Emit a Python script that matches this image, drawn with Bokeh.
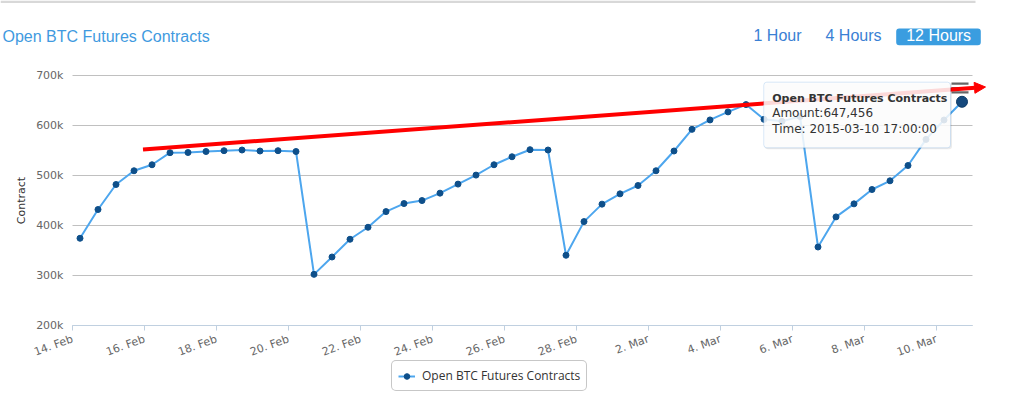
import pandas as pd
from bokeh.plotting import figure
from bokeh.models import (ColumnDataSource, FixedTicker, Legend, LegendItem, Label,
                          BoxAnnotation, Arrow, NormalHead, Range1d, Grid)
from bokeh.embed import file_html
from bokeh.resources import INLINE

# ---------------- data ----------------
series_name = "Open BTC Futures Contracts"
times = pd.date_range("2015-02-14 05:00", periods=50, freq="12h")
amounts = [374500, 432000, 482000, 509500, 521500, 545600, 546000, 548000, 549600, 551000,
           549000, 549600, 548000, 302300, 337000, 372500, 396500, 427800, 443900, 449900,
           464700, 482800, 500800, 521500, 537500, 551600, 551000, 340500, 407800, 442700,
           463300, 480000, 509500, 549000, 592300, 611100, 627200, 641800, 612300, 608300,
           618000, 357000, 417200, 443300, 472000, 489400, 520000, 572200, 611000, 647456]
y_ticks = [200000, 300000, 400000, 500000, 600000, 700000]
y_tick_labels = ["200k", "300k", "400k", "500k", "600k", "700k"]
x_tick_dates = ["2015-02-14", "2015-02-16", "2015-02-18", "2015-02-20", "2015-02-22",
                "2015-02-24", "2015-02-26", "2015-02-28", "2015-03-02", "2015-03-04",
                "2015-03-06", "2015-03-08", "2015-03-10"]
x_tick_labels = ["14. Feb", "16. Feb", "18. Feb", "20. Feb", "22. Feb", "24. Feb", "26. Feb",
                 "28. Feb", "2. Mar", "4. Mar", "6. Mar", "8. Mar", "10. Mar"]
range_buttons = ["1 Hour", "4 Hours", "12 Hours"]
selected_button = "12 Hours"
trend_start = ("2015-02-15 23:00", 552000)
trend_end = ("2015-03-11 08:40", 677000)
x_domain = ("2015-02-14", "2015-03-11")
y_domain = (200000, 700000)


def ms(s):
    return pd.Timestamp(s).value // 10**6


# ---------------- geometry (page pixels) ----------------
W, H = 1014, 394
PLOT_L, PLOT_R = 72, 972      # plot area left/right
PLOT_T, PLOT_B = 75, 325      # plot area top/bottom
x0, x1 = ms(x_domain[0]), ms(x_domain[1])
ppx = (x1 - x0) / (PLOT_R - PLOT_L)
ppy = (y_domain[1] - y_domain[0]) / (PLOT_B - PLOT_T)
xr = Range1d(x0 - PLOT_L * ppx, x1 + (W - PLOT_R) * ppx)
yr = Range1d(y_domain[0] - (H - PLOT_B) * ppy, y_domain[1] + PLOT_T * ppy)

p = figure(width=W, height=H, x_axis_type="datetime", output_backend="svg",
           toolbar_location=None, x_range=xr, y_range=yr, min_border=0)
p.min_border_left = p.min_border_right = p.min_border_top = p.min_border_bottom = 0
p.title.visible = False
p.outline_line_color = None
p.background_fill_color = "white"
p.border_fill_color = "white"


def sx(X):
    return X


def sy(Y):
    return H - Y


def sbox(L, R, T, B, **kw):
    return BoxAnnotation(left=sx(L), right=sx(R), top=sy(T), bottom=sy(B),
                         left_units="screen", right_units="screen",
                         top_units="screen", bottom_units="screen", **kw)


# top page rule
p.add_layout(sbox(0, 975, 0, 2.5, fill_color="#d8d8d8", fill_alpha=1, line_color=None))

# ---------------- grid ----------------
p.xgrid.visible = False
p.ygrid.visible = False
yt = FixedTicker(ticks=y_ticks)
if "cross_bounds" in Grid.properties():
    g = Grid(dimension=1, ticker=yt, bounds=y_domain, cross_bounds=(x0, x1),
             grid_line_color="#c0c0c0", grid_line_width=1)
    p.add_layout(g)
else:
    p.segment(x0=[x0] * len(y_ticks), x1=[x1] * len(y_ticks), y0=y_ticks, y1=y_ticks,
              line_color="#c0c0c0", line_width=1)

# ---------------- series ----------------
src = ColumnDataSource(dict(t=times, amount=amounts))
line_r = p.line("t", "amount", source=src, line_color="#4da6ee", line_width=2)
pts_r = p.scatter("t", "amount", source=src, size=6, fill_color="#0e4f8a",
                  line_color="#0e4f8a")
p.scatter(x=[times[-1]], y=[amounts[-1]], size=11, fill_color="#15497d",
          line_color="#0d3a66", line_width=1)

# ---------------- axes (fixed inside the canvas) ----------------
yax = p.yaxis[0]
yax.fixed_location = x0
yax.bounds = y_domain
yax.ticker = yt
yax.major_label_overrides = dict(zip(y_ticks, y_tick_labels))
yax.axis_label = "Contract"
yax.axis_line_color = None
yax.major_tick_line_color = None
yax.minor_tick_line_color = None
yax.major_tick_out = 0
yax.major_tick_in = 0
yax.major_label_text_font = "DejaVu Sans"
yax.major_label_text_font_size = "11px"
yax.major_label_text_color = "#666666"
yax.major_label_standoff = 9
yax.axis_label_standoff = 5
yax.axis_label_text_font = "DejaVu Sans"
yax.axis_label_text_font_size = "11px"
yax.axis_label_text_font_style = "normal"
yax.axis_label_text_color = "#333333"

x_tick_ms = [ms(d) for d in x_tick_dates]
xax = p.xaxis[0]
xax.fixed_location = y_domain[0]
xax.bounds = (x0, x1)
xax.ticker = FixedTicker(ticks=x_tick_ms)
xax.major_label_overrides = dict(zip(x_tick_ms, x_tick_labels))
xax.major_label_orientation = 0.349
xax.axis_line_color = "#c0d0e0"
xax.major_tick_line_color = "#c0d0e0"
xax.major_tick_out = 5
xax.major_tick_in = 0
xax.minor_tick_line_color = None
xax.major_label_text_font = "DejaVu Sans"
xax.major_label_text_font_size = "11px"
xax.major_label_text_color = "#666666"
xax.major_label_standoff = 8

# ---------------- title and range buttons ----------------
p.add_layout(Label(x=sx(2), y=sy(35.8), x_units="screen", y_units="screen",
                   text=series_name, text_font="Liberation Sans", text_font_size="16px",
                   text_color="#3f9ae0", text_baseline="alphabetic"))
p.add_layout(sbox(895.7, 980.3, 28, 44.7, fill_color="#3a9de0", fill_alpha=1,
                  line_color=None, border_radius=3))
for txt, bx in zip(range_buttons, [753, 825, 905.7]):
    p.add_layout(Label(x=sx(bx), y=sy(35.2), x_units="screen", y_units="screen", text=txt,
                       text_font="Liberation Sans", text_font_size="16px",
                       text_color="white" if txt == selected_button else "#3a80d4",
                       text_baseline="alphabetic"))

# ---------------- export menu icon ----------------
for top in [82, 86.5, 90.7]:
    p.add_layout(sbox(951, 968, top, top + 2.3, fill_color="#666666", fill_alpha=1,
                      line_color=None))

# ---------------- red trend arrow ----------------
p.add_layout(Arrow(end=NormalHead(size=11, fill_color="red", line_color="red"),
                   x_start=ms(trend_start[0]), y_start=trend_start[1],
                   x_end=ms(trend_end[0]), y_end=trend_end[1],
                   line_color="red", line_width=4))

# ---------------- tooltip ----------------
p.add_layout(sbox(764.3, 951.5, 82.7, 148.8, fill_color="black", fill_alpha=0.08,
                  line_color=None, border_radius=3))
p.add_layout(sbox(763.3, 950, 81.7, 147.3, fill_color="white", fill_alpha=0.85,
                  line_color="#7cb0e6", line_width=1, border_radius=3))
tip_lines = [series_name, f"Amount:{amounts[-1]:,}",
             "Time: " + times[-1].strftime("%Y-%m-%d %H:%M:%S")]
for i, (txt, by) in enumerate(zip(tip_lines, [97.7, 112.8, 128.8])):
    p.add_layout(Label(x=sx(771.7), y=sy(by), x_units="screen", y_units="screen", text=txt,
                       text_font="DejaVu Sans",
                       text_font_size="11px" if i == 0 else "12px",
                       text_font_style="bold" if i == 0 else "normal",
                       text_color="#333333", text_baseline="alphabetic"))

# ---------------- legend ----------------
legend = Legend(items=[LegendItem(label=series_name, renderers=[line_r, pts_r])],
                location=(sx(391), sy(391)), orientation="horizontal",
                border_line_color="#909090", border_line_width=1, padding=6, margin=0,
                glyph_width=17, glyph_height=14, label_height=14, label_standoff=7,
                label_text_font="Open Sans", label_text_font_size="12px",
                label_text_color="#333333", background_fill_alpha=1)
try:
    legend.border_radius = 5
except Exception:
    pass
p.add_layout(legend, "center")

open("out.html", "w").write(file_html(p, INLINE))
